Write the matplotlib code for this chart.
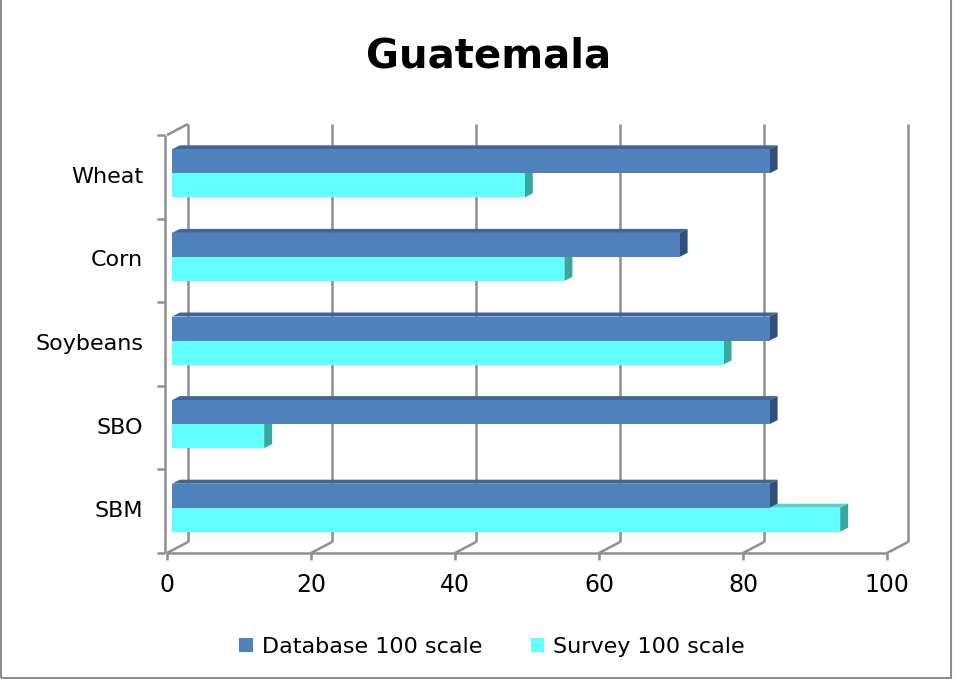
import matplotlib.pyplot as plt
from matplotlib.patches import Polygon, Patch, Rectangle

categories = ['SBM', 'SBO', 'Soybeans', 'Corn', 'Wheat']
database = [83, 83, 83, 70.5, 83]
survey = [92.8, 12.8, 76.6, 54.5, 49]
xticks = [0, 20, 40, 60, 80, 100]

DB_FRONT, DB_TOP, DB_SIDE = '#4f81bd', '#3e6797', '#30507a'
SV_FRONT, SV_TOP, SV_SIDE = '#62ffff', '#4fd6d2', '#3aa6a0'
GRID = '#8f8f8f'

W, H = 955, 679
fig = plt.figure(figsize=(W / 100, H / 100), dpi=100)
plt.rcParams['font.family'] = ['DejaVu Sans']

# front plane of the 3d box, in pixels
L, R, B, T = 167, 887, 553, 135
ax = fig.add_axes([L / W, 1 - B / H, (R - L) / W, (B - T) / H])
ax.set_xlim(0, 100)
ax.set_ylim(0, 5)
ax.axis('off')

ux = 100 / (R - L)   # data units per pixel
uy = 5 / (B - T)

back = (21 * ux, 11 * uy)     # back wall offset
front = (5 * ux, 3.5 * uy)    # bar front face offset
depth = (8 * ux, 4 * uy)      # bar depth

def line(xs, ys, **kw):
    ax.plot(xs, ys, color=GRID, lw=1.8, clip_on=False, solid_capstyle='butt',
            zorder=1, **kw)

# back wall gridlines and floor diagonals
for v in xticks:
    line([v + back[0]] * 2, [back[1], 5 + back[1]])
    line([v, v + back[0]], [0, back[1]])
    line([v, v], [0, -7 * uy])
line([0, back[0]], [5, 5 + back[1]])
line([0, 100], [0, 0])
line([-2 * ux, -2 * ux], [0, 5])
for k in range(6):
    line([-10 * ux, -2 * ux], [k, k])

bar_h = 24 * uy

def bar3d(val, y0, fc, tc, sc):
    x0 = front[0]
    yb = y0 + front[1]
    yt = yb + bar_h
    xe = val + front[0]
    dx, dy = depth
    ax.add_patch(Polygon([(x0, yt), (xe, yt), (xe + dx, yt + dy), (x0 + dx, yt + dy)],
                         closed=True, fc=tc, ec='none', clip_on=False, zorder=3))
    ax.add_patch(Polygon([(xe, yb), (xe, yt), (xe + dx, yt + dy), (xe + dx, yb + dy)],
                         closed=True, fc=sc, ec='none', clip_on=False, zorder=3))
    ax.add_patch(Rectangle((x0, yb), val, bar_h, fc=fc, ec='none', clip_on=False,
                           zorder=3))

for i, cat in enumerate(categories):
    c = i + 0.5
    bar3d(survey[i], c - bar_h, SV_FRONT, SV_TOP, SV_SIDE)
    bar3d(database[i], c, DB_FRONT, DB_TOP, DB_SIDE)
    ax.text(-24 * ux, c, cat, ha='right', va='center', fontsize=16)

for v in xticks:
    ax.text(v, -20 * uy, str(v), ha='center', va='top', fontsize=17)

fig.text(489 / W, 1 - 57 / H, 'Guatemala', ha='center', va='center',
         fontsize=29, fontweight='bold')

handles = [Patch(fc=DB_FRONT, ec='none'), Patch(fc=SV_FRONT, ec='none')]
fig.legend(handles, ['Database 100 scale', 'Survey 100 scale'], loc='center',
           bbox_to_anchor=(492 / W, 1 - 647 / H), ncol=2, frameon=False,
           fontsize=16, handlelength=0.6, handleheight=0.6, handletextpad=0.4,
           columnspacing=2.2)

fig.add_artist(Rectangle((0.001, 0.001), 0.995, 1.2, transform=fig.transFigure,
                         fill=False, ec='#8c8c8c', lw=1.5))

fig.savefig('out.png', dpi=100)
